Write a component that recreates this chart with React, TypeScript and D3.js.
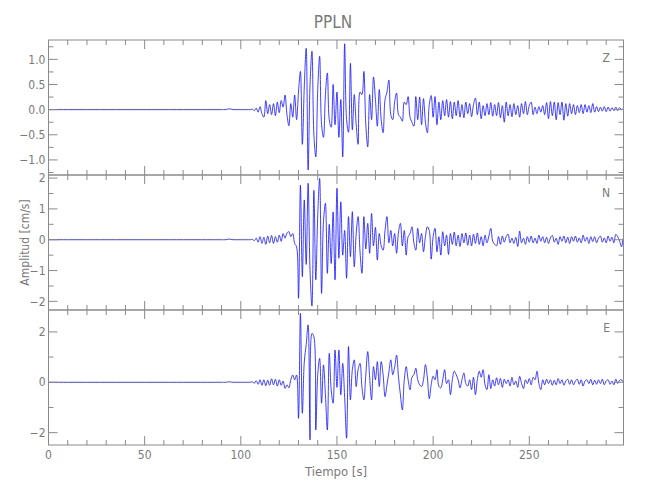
import React from "react";
import * as d3 from "d3";

// Sampled amplitudes (cm/s), one value per second starting at t = 90 s; before that the trace is flat (0).
const START_TIME = 90;
const SAMPLE_STEP = 1;
const TIME_MAX = 299;

const zValues = [
  0, 0, 0, 0.01, 0.015, 0.01, 0, 0, 0, 0,
  0, 0, 0, 0, 0, 0, 0.01, -0.02, 0.03, -0.05,
  0.06, -0.08, -0.15, 0.18, -0.08, 0.1, -0.1, 0.12, -0.12, 0.15,
  -0.06, 0.18, 0.05, 0.29, -0.1, -0.32, 0.12, -0.15, 0.29, -0.2,
  0.35, 0.76, -0.69, 0.45, 1.22, -1.2, 0.5, 1.16, -0.5, -0.94,
  0.4, 1.06, -0.3, -0.55, 0.3, 0.73, -0.2, -0.35, 0.5, -0.3,
  0.35, -0.55, 0.2, -0.94, 1.31, -0.2, -0.45, 0.92, -0.4, 0.3,
  -0.3, -0.69, 0.35, 0.3, 0.76, -0.3, -0.74, 0.3, -0.2, 0.65,
  0.2, -0.33, 0.4, -0.2, -0.46, 0.2, 0.35, 0.59, -0.1, -0.2,
  0.15, 0.33, -0.1, -0.15, -0.23, 0.15, 0.1, 0.26, -0.15, -0.25,
  -0.33, 0.26, -0.2, 0.25, -0.3, 0.22, -0.25, -0.46, 0.1, 0.28,
  -0.15, 0.26, -0.3, 0.15, -0.2, 0.18, -0.12, 0.2, -0.15, 0.16,
  -0.18, 0.15, -0.12, 0.18, -0.15, 0.1, -0.16, 0.15, -0.08, 0.12,
  -0.14, 0.1, 0.23, -0.1, 0.15, -0.18, 0.08, -0.12, 0.12, -0.1,
  0.14, -0.13, 0.1, -0.12, 0.14, -0.16, 0.08, -0.25, 0.15, -0.12,
  0.1, -0.14, 0.12, -0.1, 0.08, -0.15, 0.12, -0.08, 0.16, -0.1,
  0.08, 0.15, -0.1, 0.05, -0.08, 0.06, -0.05, 0.08, -0.1, 0.14,
  -0.18, 0.16, -0.12, 0.15, -0.2, 0.14, -0.1, 0.15, -0.21, 0.12,
  -0.13, 0.12, -0.08, 0.1, -0.1, 0.08, -0.06, 0.1, -0.08, 0.1,
  -0.05, 0.08, -0.06, 0.12, -0.05, 0.06, -0.04, 0.05, -0.03, 0.06,
  -0.04, 0.05, -0.03, 0.04, -0.02, 0.05, -0.02, 0.04, 0.0, 0.03, 0.02,
];

const nValues = [
  0, 0, 0, 0.01, 0.02, 0.01, 0, 0, 0, 0,
  0, 0, 0, 0, 0, 0, 0.01, -0.03, 0.05, -0.08,
  0.1, -0.12, 0.08, -0.15, 0.12, -0.1, 0.14, -0.12, 0.1, -0.08,
  0.15, -0.05, 0.2, 0.05, 0.22, 0.26, 0.1, 0.2, -0.12, -0.23,
  -1.9, 1.77, -1.2, 1.29, -0.8, 1.83, -1.0, -2.15, 1.6, -1.3,
  0.8, 1.99, -1.74, 0.6, 1.18, -1.09, 0.5, -0.77, 0.9, -1.3,
  1.67, -0.6, 1.23, -0.5, 0.3, -1.25, 0.75, -0.55, 0.91, -0.88,
  0.2, 0.75, -0.4, -1.09, 0.75, -0.3, 0.53, -0.44, 0.85, -0.2,
  0.4, -0.66, 0.2, -0.2, -0.34, 0.3, 0.75, -0.1, 0.3, -0.2,
  0.2, -0.44, 0.25, 0.53, -0.2, 0.3, -0.5, 0.1, 0.2, 0.42,
  -0.1, -0.34, 0.37, -0.1, 0.2, -0.39, 0.1, 0.42, 0.3, -0.63,
  0.1, 0.37, -0.39, 0.1, -0.5, 0.26, -0.2, 0.15, -0.48, 0.2,
  -0.15, 0.25, -0.2, 0.15, -0.22, 0.2, -0.1, 0.22, -0.18, 0.15,
  -0.2, 0.18, -0.12, 0.22, -0.15, 0.1, -0.2, 0.15, -0.1, 0.12,
  0.37, -0.05, -0.15, -0.2, 0.1, -0.15, 0.12, -0.08, 0.1, 0.18,
  -0.1, 0.05, -0.12, 0.08, -0.22, 0.28, -0.1, 0.05, -0.15, 0.1,
  -0.08, 0.12, -0.1, 0.05, -0.12, 0.15, -0.05, 0.1, -0.1, 0.08,
  -0.12, 0.06, 0.14, -0.08, 0.05, -0.15, 0.1, -0.05, 0.12, -0.1,
  0.08, -0.12, 0.1, -0.05, 0.12, -0.08, 0.06, -0.1, 0.15, -0.05,
  0.08, -0.12, 0.1, -0.06, 0.1, -0.1, 0.05, 0.12, -0.08, 0.06,
  -0.1, 0.12, -0.05, 0.08, -0.1, 0.17, 0.1, -0.05, -0.23, 0.05, 0.0,
];

const eValues = [
  0, 0, 0, 0.01, 0.02, 0.01, 0, 0, 0, 0,
  0, 0, 0, 0, 0, 0, 0.02, -0.04, 0.06, -0.08,
  0.1, -0.12, 0.1, -0.14, 0.08, -0.12, 0.14, -0.1, 0.12, -0.15,
  0.1, -0.12, 0.05, -0.24, -0.1, -0.22, 0.1, 0.29, 0.1, 0.29,
  -1.43, 2.74, -1.23, 0.8, 1.5, 2.28, -2.29, 1.94, 1.81, -1.89,
  0.3, 0.95, -0.83, 0.69, -0.5, -1.89, 1.15, -0.3, -0.83, 1.28,
  -0.2, 1.28, -0.5, 0.75, -0.6, -2.22, 1.42, -0.7, 0.5, 0.89,
  -0.17, 0.5, 0.75, -0.2, -0.7, 0.3, 1.22, 0.2, -0.7, 0.62,
  0.1, 0.82, -0.17, 0.82, 0.3, -0.57, -0.1, 0.4, 0.89, 0.3,
  0.6, 1.08, 0.2, -0.5, -1.1, 0.1, 0.62, 0.1, -0.3, 0.2,
  0.3, 0.56, 0.1, -0.1, -0.17, 0.1, 0.7, 0.2, -0.65, -0.1,
  0.24, 0.1, 0.5, -0.16, -0.22, 0.1, 0.5, -0.05, 0.1, -0.49,
  0.1, 0.44, 0.3, 0.1, -0.22, 0.1, 0.37, -0.05, -0.15, 0.1,
  -0.29, 0.2, -0.49, 0.1, 0.44, 0.2, 0.5, -0.1, -0.29, 0.3,
  -0.25, 0.1, -0.15, 0.18, -0.1, 0.15, -0.2, 0.12, -0.05, 0.1,
  -0.15, 0.2, -0.1, 0.05, -0.2, 0.24, -0.05, -0.25, 0.1, -0.05,
  0.15, -0.1, 0.2, 0.1, 0.44, -0.05, -0.29, 0.1, -0.1, 0.12,
  -0.05, 0.1, -0.12, 0.08, -0.1, 0.15, -0.05, 0.1, -0.12, 0.05,
  0.12, -0.08, 0.1, -0.1, 0.05, 0.12, -0.08, 0.1, -0.15, 0.05,
  0.1, -0.05, 0.12, -0.1, 0.08, -0.08, 0.1, -0.05, 0.12, -0.1,
  0.05, 0.1, -0.08, 0.05, -0.1, 0.12, -0.05, 0.08, 0.1, -0.02, 0.05,
];

const channelNames = ["Z", "N", "E"];
const zTicks = [-1.0, -0.5, 0.0, 0.5, 1.0];
const zMinor = [-1.25, -0.75, -0.25, 0.25, 0.75, 1.25];
const nTicks = [-2, -1, 0, 1, 2];
const nMinor = [-1.5, -0.5, 0.5, 1.5];
const eTicks = [-2, 0, 2];
const eMinor = [-1, 1];
const xTicks = [0, 50, 100, 150, 200, 250];
const xMinor = d3.range(10, 300, 10).filter((t) => t % 50 !== 0);

const TITLE = "PPLN";
const Y_LABEL = "Amplitud [cm/s]";
const X_LABEL = "Tiempo [s]";

const W = 650;
const H = 500;
const LEFT = 48.5;
const RIGHT = 623.5;
const TOP = 40;
const PANEL_H = 135;
const AXIS = "#8a8a8a";
const TEXT = "#7a7a7a";
const FONT = "'Liberation Sans Narrow', 'DejaVu Sans Condensed', 'Liberation Sans', sans-serif";
const MAJOR = 9;
const MINOR = 5;

type Channel = {
  name: string;
  values: number[];
  domain: [number, number];
  ticks: number[];
  minor: number[];
  fmt: (v: number) => string;
};

const fmtMinus = (s: string) => s.replace("-", "\u2212");

const channels: Channel[] = [
  { name: channelNames[0], values: zValues, domain: [-1.3, 1.385], ticks: zTicks, minor: zMinor, fmt: (v) => fmtMinus(v.toFixed(1)) },
  { name: channelNames[1], values: nValues, domain: [-2.28, 2.1], ticks: nTicks, minor: nMinor, fmt: (v) => fmtMinus(String(v)) },
  { name: channelNames[2], values: eValues, domain: [-2.49, 2.87], ticks: eTicks, minor: eMinor, fmt: (v) => fmtMinus(String(v)) },
];

export default function App() {
  const x = d3.scaleLinear().domain([0, TIME_MAX]).range([LEFT, RIGHT]);

  return (
    <svg
      width={W}
      height={H}
      style={{ position: "absolute", left: 0, top: 0, background: "#fff" }}
      fontFamily={FONT}
    >
      <rect x={0} y={0} width={W} height={H} fill="#fff" />
      <text x={333} y={28} textAnchor="middle" fontSize={17} fill={TEXT}>
        {TITLE}
      </text>
      {channels.map((ch, i) => {
        const top = TOP + i * PANEL_H;
        const bottom = top + PANEL_H;
        const y = d3.scaleLinear().domain(ch.domain).range([bottom, top]);
        const pts: [number, number][] = [[0, 0]];
        ch.values.forEach((v, k) => pts.push([START_TIME + k * SAMPLE_STEP, v]));
        const line = d3
          .line<[number, number]>()
          .x((d) => x(d[0]))
          .y((d) => y(d[1]))
          .curve(d3.curveCatmullRom.alpha(0.5));
        const clipId = `clip-${ch.name}`;
        return (
          <g key={ch.name}>
            <defs>
              <clipPath id={clipId}>
                <rect x={LEFT} y={top} width={RIGHT - LEFT} height={PANEL_H} />
              </clipPath>
            </defs>
            <path
              d={line(pts) || ""}
              fill="none"
              stroke="#1010ff"
              strokeWidth={0.8}
              strokeLinejoin="round"
              clipPath={`url(#${clipId})`}
            />
            <rect x={LEFT} y={top} width={RIGHT - LEFT} height={PANEL_H} fill="none" stroke={AXIS} strokeWidth={1} />
            {xTicks.map((t) => (
              <g key={`xt${t}`} stroke={AXIS}>
                <line x1={x(t)} x2={x(t)} y1={top} y2={top + MAJOR} />
                <line x1={x(t)} x2={x(t)} y1={bottom} y2={bottom - MAJOR} />
              </g>
            ))}
            {xMinor.map((t) => (
              <g key={`xm${t}`} stroke={AXIS}>
                <line x1={x(t)} x2={x(t)} y1={top} y2={top + MINOR} />
                <line x1={x(t)} x2={x(t)} y1={bottom} y2={bottom - MINOR} />
              </g>
            ))}
            {ch.ticks.map((v) => (
              <g key={`yt${v}`}>
                <line x1={LEFT} x2={LEFT + MAJOR} y1={y(v)} y2={y(v)} stroke={AXIS} />
                <line x1={RIGHT} x2={RIGHT - MAJOR} y1={y(v)} y2={y(v)} stroke={AXIS} />
                <text x={LEFT - 3} y={y(v)} dy="0.35em" textAnchor="end" fontSize={12} fill={TEXT}>
                  {ch.fmt(v)}
                </text>
              </g>
            ))}
            {ch.minor.map((v) => (
              <g key={`ym${v}`} stroke={AXIS}>
                <line x1={LEFT} x2={LEFT + MINOR} y1={y(v)} y2={y(v)} />
                <line x1={RIGHT} x2={RIGHT - MINOR} y1={y(v)} y2={y(v)} />
              </g>
            ))}
            <text x={610} y={top + 22} textAnchor="end" fontSize={12} fill={TEXT}>
              {ch.name}
            </text>
          </g>
        );
      })}
      {xTicks.map((t) => (
        <text key={`xl${t}`} x={x(t)} y={TOP + 3 * PANEL_H + 14} textAnchor="middle" fontSize={12} fill={TEXT}>
          {t}
        </text>
      ))}
      <text x={336} y={476} textAnchor="middle" fontSize={13} fill={TEXT}>
        {X_LABEL}
      </text>
      <text
        transform={`translate(29, ${TOP + 1.5 * PANEL_H}) rotate(-90)`}
        textAnchor="middle"
        fontSize={12}
        fill={TEXT}
      >
        {Y_LABEL}
      </text>
    </svg>
  );
}
